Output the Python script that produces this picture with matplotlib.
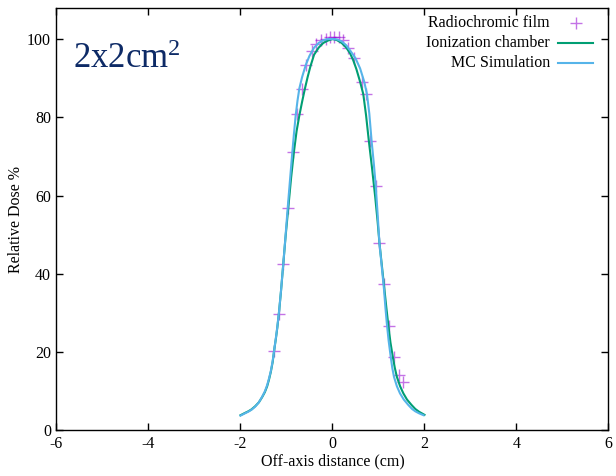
import matplotlib
matplotlib.use("Agg")
import matplotlib.pyplot as plt

plt.rcParams["font.family"] = ["Liberation Serif", "DejaVu Serif"]
plt.rcParams["mathtext.fontset"] = "custom"
plt.rcParams["mathtext.rm"] = "Liberation Serif"
plt.rcParams["mathtext.it"] = "Liberation Serif"
plt.rcParams["axes.unicode_minus"] = False

# radiochromic film measurements (off-axis cm, relative dose %)
film_x = [-1.265, -1.157, -1.07, -0.974, -0.865, -0.772, -0.670, -0.576, -0.452,
          -0.359, -0.250, -0.148, -0.054, 0.033, 0.135, 0.235, 0.342, 0.474,
          0.635, 0.72, 0.815, 0.939, 1.017, 1.126, 1.222, 1.337, 1.452, 1.540]
film_y = [20.3, 29.7, 42.5, 56.8, 71.1, 80.8, 87.2, 93.3, 97.0,
          98.7, 99.8, 100.0, 100.4, 100.4, 100.4, 99.7, 97.6, 95.1,
          89.1, 85.9, 74.0, 62.5, 47.8, 37.3, 26.8, 18.9, 14.2, 12.3]

# ionization chamber profile
ion_x = [-2.00, -1.95, -1.90, -1.83, -1.76, -1.68, -1.60, -1.53, -1.47, -1.42,
         -1.38, -1.34, -1.30, -1.27, -1.23, -1.20, -1.16, -1.12, -1.07, -1.02,
         -0.96, -0.90, -0.84, -0.78, -0.72, -0.66, -0.60, -0.54, -0.48, -0.40,
         -0.30, -0.20, -0.10, 0.00, 0.10, 0.20, 0.30, 0.38, 0.45, 0.52,
         0.60, 0.67, 0.73, 0.79, 0.86, 0.93, 0.98, 1.02, 1.07, 1.125,
         1.17, 1.215, 1.26, 1.31, 1.355, 1.40, 1.47, 1.54, 1.62, 1.72,
         1.80, 1.88, 1.94, 2.00]
ion_y = [3.9, 4.2, 4.5, 4.9, 5.4, 6.2, 7.2, 8.5, 9.8, 11.3,
         13.0, 15.0, 17.5, 20.3, 23.5, 26.2, 30.5, 35.5, 42.5, 49.5,
         57.0, 64.5, 71.0, 76.5, 80.5, 84.0, 87.3, 90.3, 93.0, 96.0,
         97.8, 99.0, 99.6, 100.0, 99.7, 99.0, 97.8, 96.4, 94.6, 92.3,
         89.1, 85.9, 80.5, 74.0, 67.0, 59.5, 53.5, 48.0, 42.5, 36.5,
         31.5, 26.8, 22.5, 18.9, 16.0, 13.7, 11.3, 9.5, 7.9, 6.5,
         5.5, 4.8, 4.4, 4.0]

# Monte Carlo simulation profile
mc_x = [-2.00, -1.95, -1.90, -1.83, -1.76, -1.68, -1.60, -1.53, -1.47, -1.42,
        -1.38, -1.34, -1.30, -1.27, -1.23, -1.20, -1.16, -1.12, -1.07, -1.02,
        -0.974, -0.92, -0.873, -0.84, -0.80, -0.76, -0.72, -0.66, -0.58, -0.50,
        -0.40, -0.30, -0.20, -0.10, 0.00, 0.10, 0.20, 0.30, 0.40, 0.50,
        0.60, 0.69, 0.75, 0.80, 0.85, 0.90, 0.94, 0.98, 1.02, 1.07,
        1.12, 1.15, 1.18, 1.22, 1.265, 1.30, 1.337, 1.40, 1.467, 1.55,
        1.65, 1.73, 1.80, 1.88, 1.94, 1.98]
mc_y = [3.8, 4.1, 4.4, 4.8, 5.3, 6.1, 7.2, 8.6, 10.0, 11.6,
        13.3, 15.2, 17.8, 20.3, 23.7, 26.4, 30.6, 35.6, 42.5, 49.8,
        56.8, 64.5, 71.1, 75.5, 80.5, 84.3, 87.4, 90.3, 93.4, 95.7,
        97.8, 99.0, 99.7, 100.0, 100.0, 99.9, 99.4, 98.4, 96.8, 95.1,
        92.5, 89.1, 85.9, 81.0, 74.0, 68.0, 62.5, 55.5, 48.0, 42.0,
        36.0, 31.5, 27.5, 23.0, 18.9, 16.0, 13.7, 11.3, 9.5, 7.9,
        6.5, 5.5, 4.9, 4.4, 4.1, 3.9]

x_ticks = [-6, -4, -2, 0, 2, 4, 6]
y_ticks = [0, 20, 40, 60, 80, 100]

series_labels = ["Radiochromic film", "Ionization chamber", "MC Simulation"]
film_color = "#9400d3"
ion_color = "#009e73"
mc_color = "#56b4e9"

fig = plt.figure(figsize=(6.16, 4.76), dpi=100)
ax = fig.add_axes([0.0917, 0.0956, 0.8961, 0.8882])

ax.plot(film_x, film_y, linestyle="none", marker="+", markersize=9,
        markeredgewidth=1.0, color=film_color, alpha=0.55)
ax.plot(ion_x, ion_y, color=ion_color, linewidth=1.5)
ax.plot(mc_x, mc_y, color=mc_color, linewidth=1.5)

ax.set_xlim(-6, 6)
ax.set_ylim(0, 108)
ax.set_xticks(x_ticks)
ax.set_yticks(y_ticks)
ax.tick_params(direction="in", length=5, width=1, top=True, right=True,
               labelsize=11.5, pad=4)
for spine in ax.spines.values():
    spine.set_linewidth(1.0)

ax.set_xlabel("Off-axis distance (cm)", fontsize=11.5, labelpad=1)
ax.set_ylabel("Relative Dose %", fontsize=11.5, labelpad=2)

ax.text(-5.64, 92.6, "2x2cm$^{2}$", fontsize=25, color="#0d2a66",
        va="baseline", ha="left")

# gnuplot-style key: right-justified labels, sample to the right
key_rows = [0.963, 0.916, 0.8685]
for label, yk in zip(series_labels, key_rows):
    ax.text(0.894, yk, label, transform=ax.transAxes, ha="right", va="center",
            fontsize=11.5)
ax.plot([0.9405], [key_rows[0]], transform=ax.transAxes, linestyle="none",
        marker="+", markersize=9, markeredgewidth=1.0, color=film_color,
        alpha=0.55, clip_on=False)
ax.plot([0.908, 0.9725], [key_rows[1]] * 2, transform=ax.transAxes,
        color=ion_color, linewidth=1.5, clip_on=False)
ax.plot([0.908, 0.9725], [key_rows[2]] * 2, transform=ax.transAxes,
        color=mc_color, linewidth=1.5, clip_on=False)

fig.savefig("out.png", dpi=100)
